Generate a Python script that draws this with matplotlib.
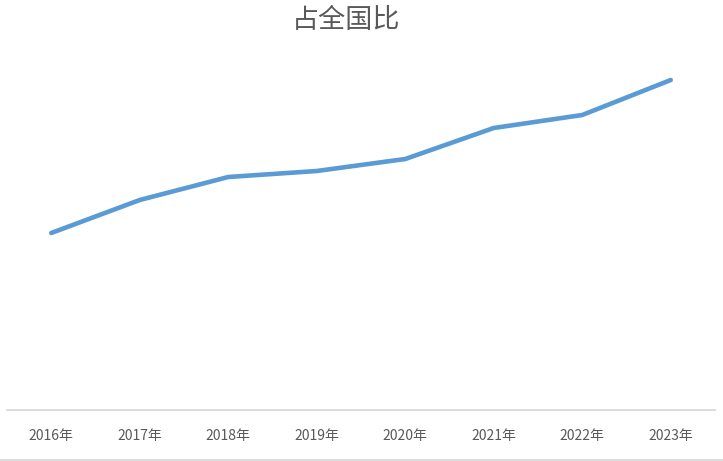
import matplotlib
matplotlib.use('Agg')
from matplotlib import pyplot as plt
from matplotlib.lines import Line2D

plt.rcParams['font.family'] = ['Noto Sans CJK SC', 'DejaVu Sans']

years = ['2016年', '2017年', '2018年', '2019年', '2020年', '2021年', '2022年', '2023年']
share = [17.7, 21.0, 23.3, 23.9, 25.1, 28.2, 29.5, 33.0]

fig = plt.figure(figsize=(7.23, 4.61), dpi=100)
ax = fig.add_axes([7 / 723, 51 / 461, 708 / 723, 360 / 461])

ax.plot(range(len(years)), share, color='#5B9BD5', linewidth=3.3, solid_capstyle='round', solid_joinstyle='round')
ax.set_xlim(-0.5, len(years) - 0.5)
ax.set_ylim(0, 36)

ax.set_xticks(range(len(years)))
ax.set_xticklabels(years, color='#595959', fontsize=10)
ax.tick_params(axis='x', length=0, pad=14)
ax.set_yticks([])
for side in ['top', 'left', 'right']:
    ax.spines[side].set_visible(False)
ax.spines['bottom'].set_color('#D9D9D9')
ax.spines['bottom'].set_linewidth(1.3)

fig.text(346 / 723, 1 - 20 / 461, '占全国比', ha='center', va='center', fontsize=19.5, color='#595959')
fig.add_artist(Line2D([0, 1], [1.5 / 461, 1.5 / 461], transform=fig.transFigure, color='#D9D9D9', linewidth=1.3))

fig.savefig('out.png', dpi=100)
